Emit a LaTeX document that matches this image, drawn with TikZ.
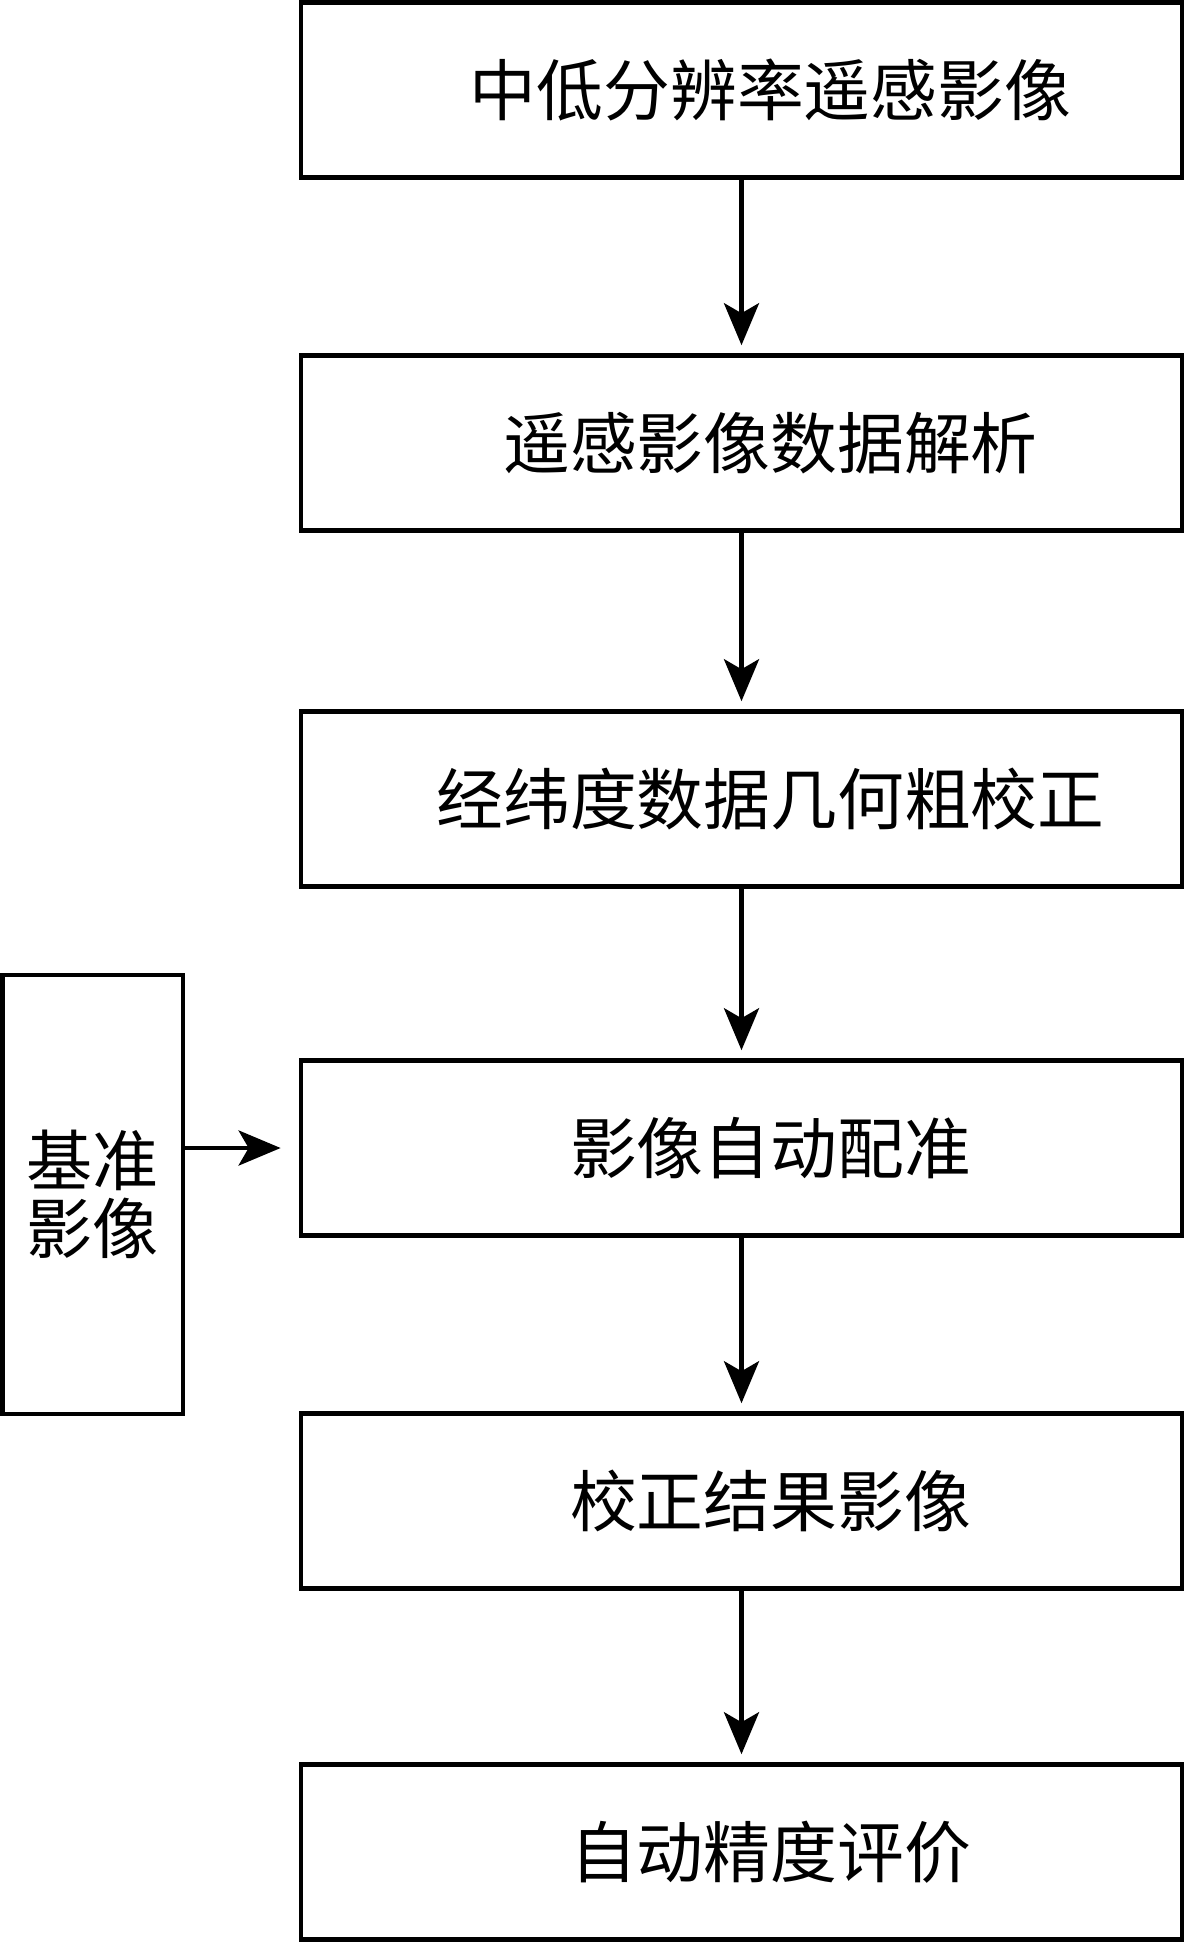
\documentclass[tikz,border=0pt]{standalone}
\usepackage{fontspec}
\newfontfamily\cjk{Noto Sans CJK SC}
\usetikzlibrary{arrows.meta}

\begin{document}
\begin{tikzpicture}[x=0.025cm,y=-0.025cm,
  procbox/.style={draw,line width=3.2pt,minimum width=22.025cm,minimum height=4.375cm,inner sep=0pt,
    font=\cjk\fontsize{47.5}{49}\selectfont,execute at begin node=\hspace*{1.45cm}},
  refbox/.style={draw,line width=3.2pt,minimum width=4.5125cm,minimum height=10.975cm,inner sep=0pt,
    align=center,font=\cjk\fontsize{47}{48.5}\selectfont},
  flow/.style={line width=3.2pt,-{Stealth[length=1.05cm,width=0.875cm,inset=0.25cm]}}]
\useasboundingbox (0,0) rectangle (1186,1943);
\node[procbox] (raw) at (741.5,90) {中低分辨率遥感影像};
\node[procbox] (parse) at (741.5,443) {遥感影像数据解析};
\node[procbox] (coarse) at (741.5,799) {经纬度数据几何粗校正};
\node[procbox] (match) at (741.5,1148) {影像自动配准};
\node[procbox] (result) at (741.5,1501) {校正结果影像};
\node[procbox] (assess) at (741.5,1852) {自动精度评价};
\node[refbox] (ref) at (92.75,1194.5) {基准\\影像};
\foreach \a/\b in {raw/parse,parse/coarse,coarse/match,match/result,result/assess}
  \draw[flow,shorten >=0.2cm] (\a) -- (\b);
\draw[flow,shorten >=0.45cm] (ref.east |- match) -- (match.west);
\end{tikzpicture}
\end{document}
